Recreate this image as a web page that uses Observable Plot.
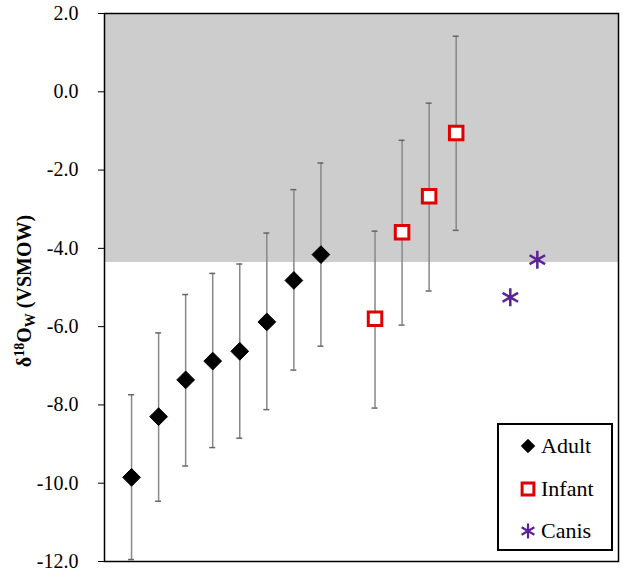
<!DOCTYPE html>
<html>
<head>
<meta charset="utf-8">
<script src="https://cdn.jsdelivr.net/npm/d3@7"></script>
<script src="https://cdn.jsdelivr.net/npm/@observablehq/plot@0.6"></script>
<style>
  body { margin: 0; background: #fff; font-family: 'Liberation Serif', 'Times New Roman', serif; }
  #wrap { position: relative; width: 623px; height: 572px; }
  #legend { position: absolute; left: 497px; top: 423px; width: 112px; height: 124px;
    border: 2px solid #000; background: #fff; font-family: 'Liberation Serif', 'Times New Roman', serif; font-size: 22px; }
  .item { position: absolute; left: 0; height: 30px; display: flex; align-items: center; }
  .item svg { width: 26px; height: 26px; margin-left: 16px; }
</style>
</head>
<body>
<div id="wrap"></div>
<script>
// ---- data ----
const adultX  = [1, 2, 3, 4, 5, 6, 7, 8];
const adultY  = [-9.85, -8.30, -7.36, -6.88, -6.63, -5.88, -4.82, -4.16];
const adultLo = [-11.95, -10.46, -9.56, -9.09, -8.85, -8.12, -7.11, -6.50];
const adultHi = [-7.74, -6.16, -5.18, -4.64, -4.40, -3.61, -2.50, -1.82];

const infantX  = [10, 11, 12, 13];
const infantY  = [-5.80, -3.59, -2.67, -1.05];
const infantLo = [-8.08, -5.96, -5.09, -3.54];
const infantHi = [-3.56, -1.24, -0.29, 1.42];

const canisX = [15, 16];
const canisY = [-5.25, -4.29];

const bandLow = -4.36;
const yTicks = [-12, -10, -8, -6, -4, -2, 0, 2];
const legendLabels = ["Adult", "Infant", "Canis"];

const FONT = "'Liberation Serif', 'Times New Roman', serif";

// ---- tables ----
const adult = adultX.map((x, i) => ({x, y: adultY[i], lo: adultLo[i], hi: adultHi[i]}));
const infant = infantX.map((x, i) => ({x, y: infantY[i], lo: infantLo[i], hi: infantHi[i]}));
const canis = canisX.map((x, i) => ({x, y: canisY[i]}));
const bars = adult.concat(infant);
const capW = 0.11;

const chart = Plot.plot({
  width: 623,
  height: 572,
  marginLeft: 104,
  marginRight: 5,
  marginTop: 13,
  marginBottom: 11,
  style: {fontFamily: FONT, fontSize: "20px", color: "#000", background: "#fff"},
  x: {domain: [0, 19], axis: null},
  y: {domain: [-12, 2], ticks: yTicks, tickFormat: d => d.toFixed(1), label: null},
  marks: [
    Plot.rect([{y1: bandLow, y2: yTicks[yTicks.length - 1]}], {x1: 0, x2: 19, y1: "y1", y2: "y2", fill: "#cdcdcd"}),
    Plot.ruleX(bars, {x: "x", y1: "lo", y2: "hi", stroke: "#888", strokeWidth: 1.5}),
    Plot.ruleY(bars, {y: "hi", x1: d => d.x - capW, x2: d => d.x + capW, stroke: "#666", strokeWidth: 1.5}),
    Plot.ruleY(bars, {y: "lo", x1: d => d.x - capW, x2: d => d.x + capW, stroke: "#666", strokeWidth: 1.5}),
    Plot.dot(adult, {x: "x", y: "y", symbol: "diamond2", r: 8, fill: "#000", stroke: "#000", strokeWidth: 1}),
    Plot.dot(infant, {x: "x", y: "y", symbol: "square2", r: 8.6, fill: "#fff", stroke: "#e00000", strokeWidth: 3}),
    Plot.dot(canis, {x: "x", y: "y", symbol: "asterisk", r: 8.5, stroke: "#5a2296", strokeWidth: 2.5}),
    Plot.axisY({ticks: yTicks, tickFormat: d => d.toFixed(1), tickSize: 6, tickPadding: 20, stroke: "#000", fill: "#000"}),
    Plot.frame({stroke: "#000", strokeWidth: 1.5})
  ]
});

const wrap = document.getElementById("wrap");
wrap.appendChild(chart);

// y-axis label with superscript / subscript
const svg = d3.select(chart);
const lbl = svg.append("text")
  .attr("transform", "translate(31,291) rotate(-90)")
  .attr("text-anchor", "middle")
  .style("font-family", FONT)
  .attr("font-weight", "bold")
  .attr("font-size", 20)
  .attr("fill", "#000");
lbl.append("tspan").text("δ");
lbl.append("tspan").attr("font-size", 14).attr("dy", -7).text("18");
lbl.append("tspan").attr("dy", 7).text("O");
lbl.append("tspan").attr("font-size", 14).attr("dy", 4).text("W");
lbl.append("tspan").attr("dy", -4).text(" (VSMOW)");

// legend
const legend = document.createElement("div");
legend.id = "legend";
wrap.appendChild(legend);
const syms = [
  {sym: d3.symbolDiamond2, r: 6, fill: "#000", stroke: "#000", sw: 1},
  {sym: d3.symbolSquare2, r: 7.5, fill: "#fff", stroke: "#e00000", sw: 3},
  {sym: d3.symbolAsterisk, r: 7, fill: "none", stroke: "#5a2296", sw: 2.2}
];
const tops = [6, 49, 91];
legendLabels.forEach((name, i) => {
  const item = document.createElement("div");
  item.className = "item";
  item.style.top = tops[i] + "px";
  const s = syms[i];
  const path = d3.symbol(s.sym, Math.PI * s.r * s.r)();
  item.innerHTML = `<svg viewBox="-13 -13 26 26"><path d="${path}" fill="${s.fill}" stroke="${s.stroke}" stroke-width="${s.sw}"/></svg><span>${name}</span>`;
  legend.appendChild(item);
});
</script>
</body>
</html>
